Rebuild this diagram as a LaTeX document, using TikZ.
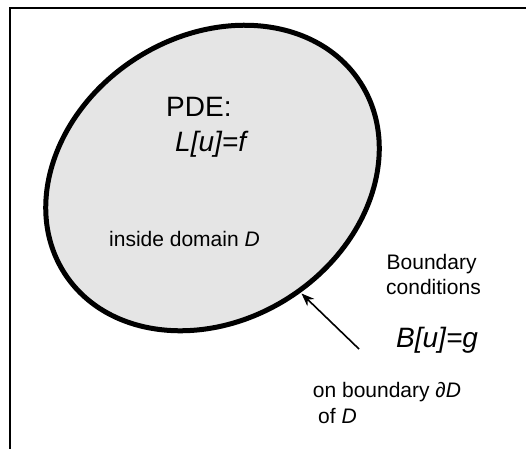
\documentclass[tikz,border=0pt]{standalone}
\usepackage{fontspec}
\setmainfont{Liberation Sans}
\usetikzlibrary{shapes.geometric,arrows.meta}
\begin{document}
\begin{tikzpicture}[x=1pt,y=-1pt,
  big/.style={font=\fontsize{28}{33}\selectfont, inner sep=0pt, anchor=base west},
  small/.style={font=\fontsize{21}{25}\selectfont, inner sep=0pt, anchor=base west},
  domainshape/.style={draw, ellipse, inner sep=0pt, line width=5pt, fill=black!10}]
\useasboundingbox (0,0) rectangle (526,448);
\clip (0,0) rectangle (526,448);
\draw[line width=2pt] (9.7,460) -- (9.7,8.3) -- (540,8.3);
\node[domainshape, minimum width=352pt, minimum height=284pt, rotate=32.8] (dom) at (212.5,178) {};
\node[big] (pde) at (166,116.5) {PDE:};
\node[big] (lu) at (175,151.5) {\itshape L[u]=f};
\node[small] (inside) at (109,246.5) {inside domain \textit{D}};
\node[small] (bnd1) at (386.5,269.3) {Boundary};
\node[small] (bnd2) at (386,294) {conditions};
\node[big] (bu) at (396,347.3) {\itshape B[u]=g};
\node[small] (on1) at (312.7,397) {on boundary ∂\textit{D}};
\node[small] (on2) at (318,423.5) {of \textit{D}};
\coordinate (tail) at (359,349);
\coordinate (tip) at (301.5,293.5);
\draw[line width=1.6pt, -{Stealth[length=13pt,width=10pt]}] (tail) -- (tip);
\end{tikzpicture}
\end{document}
